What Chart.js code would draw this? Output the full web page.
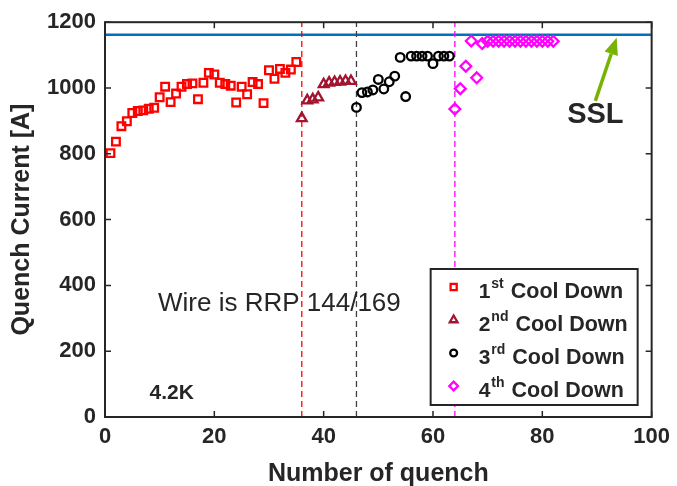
<!DOCTYPE html>
<html>
<head>
<meta charset="utf-8">
<script src="https://cdn.jsdelivr.net/npm/chart.js@4.4.1/dist/chart.umd.min.js"></script>
<style>
body { margin: 0; background: #fff; }
</style>
</head>
<body>
<canvas id="chart" width="677" height="486"></canvas>
<script>
// quench current per quench number, one array per cool down
var cool1Quench = [1, 2, 3, 4, 5, 6, 7, 8, 9, 10, 11, 12, 13, 14, 15, 16, 17, 18, 19, 20, 21, 22, 23, 24, 25, 26, 27, 28, 29, 30, 31, 32, 33, 34, 35]
var cool1Current = [802, 837, 884, 899, 924, 930, 932, 937, 940, 972, 1004, 957, 983, 1004, 1012, 1014, 966, 1016, 1046, 1041, 1016, 1012, 1007, 956, 1004, 981, 1018, 1012, 954, 1054, 1028, 1058, 1046, 1056, 1079]
var cool2Quench = [36, 37, 38, 39, 40, 41, 42, 43, 44, 45]
var cool2Current = [908, 962, 965, 971, 1011, 1016, 1018, 1019, 1021, 1021]
var cool3Quench = [46, 47, 48, 49, 50, 51, 52, 53, 54, 55, 56, 57, 58, 59, 60, 61, 62, 63]
var cool3Current = [941, 986, 988, 994, 1026, 997, 1019, 1036, 1093, 974, 1097, 1097, 1097, 1097, 1074, 1097, 1097, 1097]
var cool4Quench = [64, 65, 66, 67, 68, 69, 70, 71, 72, 73, 74, 75, 76, 77, 78, 79, 80, 81, 82]
var cool4Current = [936, 998, 1066, 1143, 1031, 1135, 1142, 1142, 1142, 1142, 1142, 1142, 1142, 1142, 1142, 1142, 1142, 1142, 1142]

// short sample limit and the quench number where each new cool down starts
var sslCurrent = 1162
var coolDownStarts = [36, 46, 64]
var coolDownLineColors = ['#ff0000', '#404040', '#ff00ff']

var xTicks = [0, 20, 40, 60, 80, 100]
var yTicks = [0, 200, 400, 600, 800, 1000, 1200]

var legendNumbers = ['1', '2', '3', '4']
var legendSuffixes = ['st', 'nd', 'rd', 'th']
var legendText = 'Cool Down'

var FONT = "'Liberation Sans', Arial, Helvetica, sans-serif"
var INK = '#262626'

function toPoints(xs, ys) {
	var pts = []
	for (var i = 0; i < xs.length; i++) pts.push({ x: xs[i], y: ys[i] })
	return pts
}

var markerStyles = [
	{ pointStyle: 'rect', color: '#ff0000', radius: 5.4 },
	{ pointStyle: 'triangle', color: '#a2142f', radius: 5.6 },
	{ pointStyle: 'circle', color: '#000000', radius: 4.3 },
	{ pointStyle: 'rectRot', color: '#ff00ff', radius: 5.4 },
]
var seriesX = [cool1Quench, cool2Quench, cool3Quench, cool4Quench]
var seriesY = [cool1Current, cool2Current, cool3Current, cool4Current]

var datasets = []
for (var s = 0; s < 4; s++) {
	datasets.push({
		type: 'scatter',
		data: toPoints(seriesX[s], seriesY[s]),
		pointStyle: markerStyles[s].pointStyle,
		pointRadius: markerStyles[s].radius,
		pointBorderWidth: 2.3,
		borderColor: markerStyles[s].color,
		backgroundColor: 'rgba(0,0,0,0)',
		order: 1,
	})
}
// dashed dividers between cool downs
for (var d = 0; d < coolDownStarts.length; d++) {
	datasets.push({
		type: 'line',
		data: [{ x: coolDownStarts[d], y: 0 }, { x: coolDownStarts[d], y: 1200 }],
		borderColor: coolDownLineColors[d],
		borderWidth: 1.3,
		borderDash: [6, 4],
		pointRadius: 0,
		order: 2,
	})
}
// SSL line
datasets.push({
	type: 'line',
	data: [{ x: 0, y: sslCurrent }, { x: 100, y: sslCurrent }],
	borderColor: '#0072bd',
	borderWidth: 2.5,
	pointRadius: 0,
	order: 2,
})

function tickValues(list) {
	return function (scale) {
		scale.ticks = list.map(function (v) { return { value: v } })
	}
}

var framePlugin = {
	id: 'frame',
	afterDatasetsDraw: function (chart) {
		var ctx = chart.ctx
		var a = chart.chartArea
		var xs = chart.scales.x, ys = chart.scales.y
		ctx.save()
		// annotations
		ctx.fillStyle = INK
		ctx.textAlign = 'center'
		ctx.textBaseline = 'middle'
		ctx.font = '26px ' + FONT
		ctx.fillText('Wire is RRP 144/169', xs.getPixelForValue(31.9), ys.getPixelForValue(343))
		ctx.font = 'bold 21px ' + FONT
		ctx.fillText('4.2K', xs.getPixelForValue(12.2), ys.getPixelForValue(72))
		ctx.font = 'bold 29px ' + FONT
		ctx.fillText('SSL', xs.getPixelForValue(89.7), ys.getPixelForValue(919))

		// green arrow pointing at the SSL line
		var tx = xs.getPixelForValue(89.7), ty = ys.getPixelForValue(961)
		var hx = xs.getPixelForValue(93.6), hy = ys.getPixelForValue(1153)
		var ang = Math.atan2(hy - ty, hx - tx)
		var hl = 17, hw = 7
		ctx.strokeStyle = '#77b300'
		ctx.fillStyle = '#77b300'
		ctx.lineWidth = 3.5
		ctx.beginPath()
		ctx.moveTo(tx, ty)
		ctx.lineTo(hx - hl * Math.cos(ang), hy - hl * Math.sin(ang))
		ctx.stroke()
		ctx.beginPath()
		ctx.moveTo(hx, hy)
		ctx.lineTo(hx - hl * Math.cos(ang) + hw * Math.sin(ang), hy - hl * Math.sin(ang) - hw * Math.cos(ang))
		ctx.lineTo(hx - hl * Math.cos(ang) - hw * Math.sin(ang), hy - hl * Math.sin(ang) + hw * Math.cos(ang))
		ctx.closePath()
		ctx.fill()

		// axes box with inward ticks
		ctx.strokeStyle = INK
		ctx.lineWidth = 2
		ctx.strokeRect(a.left, a.top, a.right - a.left, a.bottom - a.top)
		ctx.lineWidth = 1.5
		ctx.beginPath()
		xTicks.forEach(function (v) {
			var px = xs.getPixelForValue(v)
			ctx.moveTo(px, a.bottom); ctx.lineTo(px, a.bottom - 6)
			ctx.moveTo(px, a.top); ctx.lineTo(px, a.top + 6)
		})
		yTicks.forEach(function (v) {
			var py = ys.getPixelForValue(v)
			ctx.moveTo(a.left, py); ctx.lineTo(a.left + 6, py)
			ctx.moveTo(a.right, py); ctx.lineTo(a.right - 6, py)
		})
		ctx.stroke()

		// legend box
		var bx = a.right - 221, by = a.bottom - 148, bw = 207, bh = 136
		ctx.fillStyle = '#ffffff'
		ctx.fillRect(bx, by, bw, bh)
		ctx.strokeStyle = INK
		ctx.lineWidth = 2
		ctx.strokeRect(bx, by, bw, bh)
		for (var i = 0; i < legendNumbers.length; i++) {
			var base = by + 29 + i * 33
			var m = markerStyles[i]
			ctx.strokeStyle = m.color
			ctx.fillStyle = '#ffffff'
			ctx.lineWidth = 2.3
			Chart.helpers.drawPoint(ctx, { pointStyle: m.pointStyle, radius: m.radius * 0.8, borderWidth: 2.3 }, bx + 23, base - 11)
			ctx.fillStyle = INK
			ctx.textAlign = 'left'
			ctx.textBaseline = 'alphabetic'
			var x0 = bx + 48
			ctx.font = 'bold 21px ' + FONT
			ctx.fillText(legendNumbers[i], x0, base)
			x0 += ctx.measureText(legendNumbers[i]).width + 1
			ctx.font = 'bold 14px ' + FONT
			ctx.fillText(legendSuffixes[i], x0, base - 10)
			x0 += ctx.measureText(legendSuffixes[i]).width + 7
			ctx.font = 'bold 21.5px ' + FONT
			ctx.fillText(legendText, x0, base)
		}
		ctx.restore()
	},
}

new Chart(document.getElementById('chart'), {
	data: { datasets: datasets },
	options: {
		responsive: false,
		animation: false,
		events: [],
		layout: { padding: { top: 15, right: 24, left: 0, bottom: 0 } },
		plugins: { legend: { display: false }, tooltip: { enabled: false } },
		scales: {
			x: {
				type: 'linear',
				min: 0,
				max: 100,
				afterBuildTicks: tickValues(xTicks),
				afterFit: function (scale) { scale.height = 69 },
				grid: { display: false, drawTicks: false },
				border: { display: false },
				ticks: {
					color: INK, padding: 7, maxRotation: 0,
					font: { family: FONT, size: 22, weight: 'bold' },
					callback: function (v) { return String(v) },
				},
				title: {
					display: true,
					text: 'Number of quench',
					color: INK,
					font: { family: FONT, size: 25, weight: 'bold', lineHeight: 1 },
					padding: { top: 0, bottom: -1 },
				},
			},
			y: {
				type: 'linear',
				min: 0,
				max: 1200,
				afterBuildTicks: tickValues(yTicks),
				afterFit: function (scale) { scale.width = 105 },
				grid: { display: false, drawTicks: false },
				border: { display: false },
				ticks: {
					color: INK, padding: 9,
					font: { family: FONT, size: 22, weight: 'bold' },
					callback: function (v) { return String(v) },
				},
				title: {
					display: true,
					text: 'Quench Current [A]',
					color: INK,
					font: { family: FONT, size: 25, weight: 'bold', lineHeight: 1 },
					padding: { top: 10, bottom: 0 },
				},
			},
		},
	},
	plugins: [framePlugin],
})
</script>
</body>
</html>
